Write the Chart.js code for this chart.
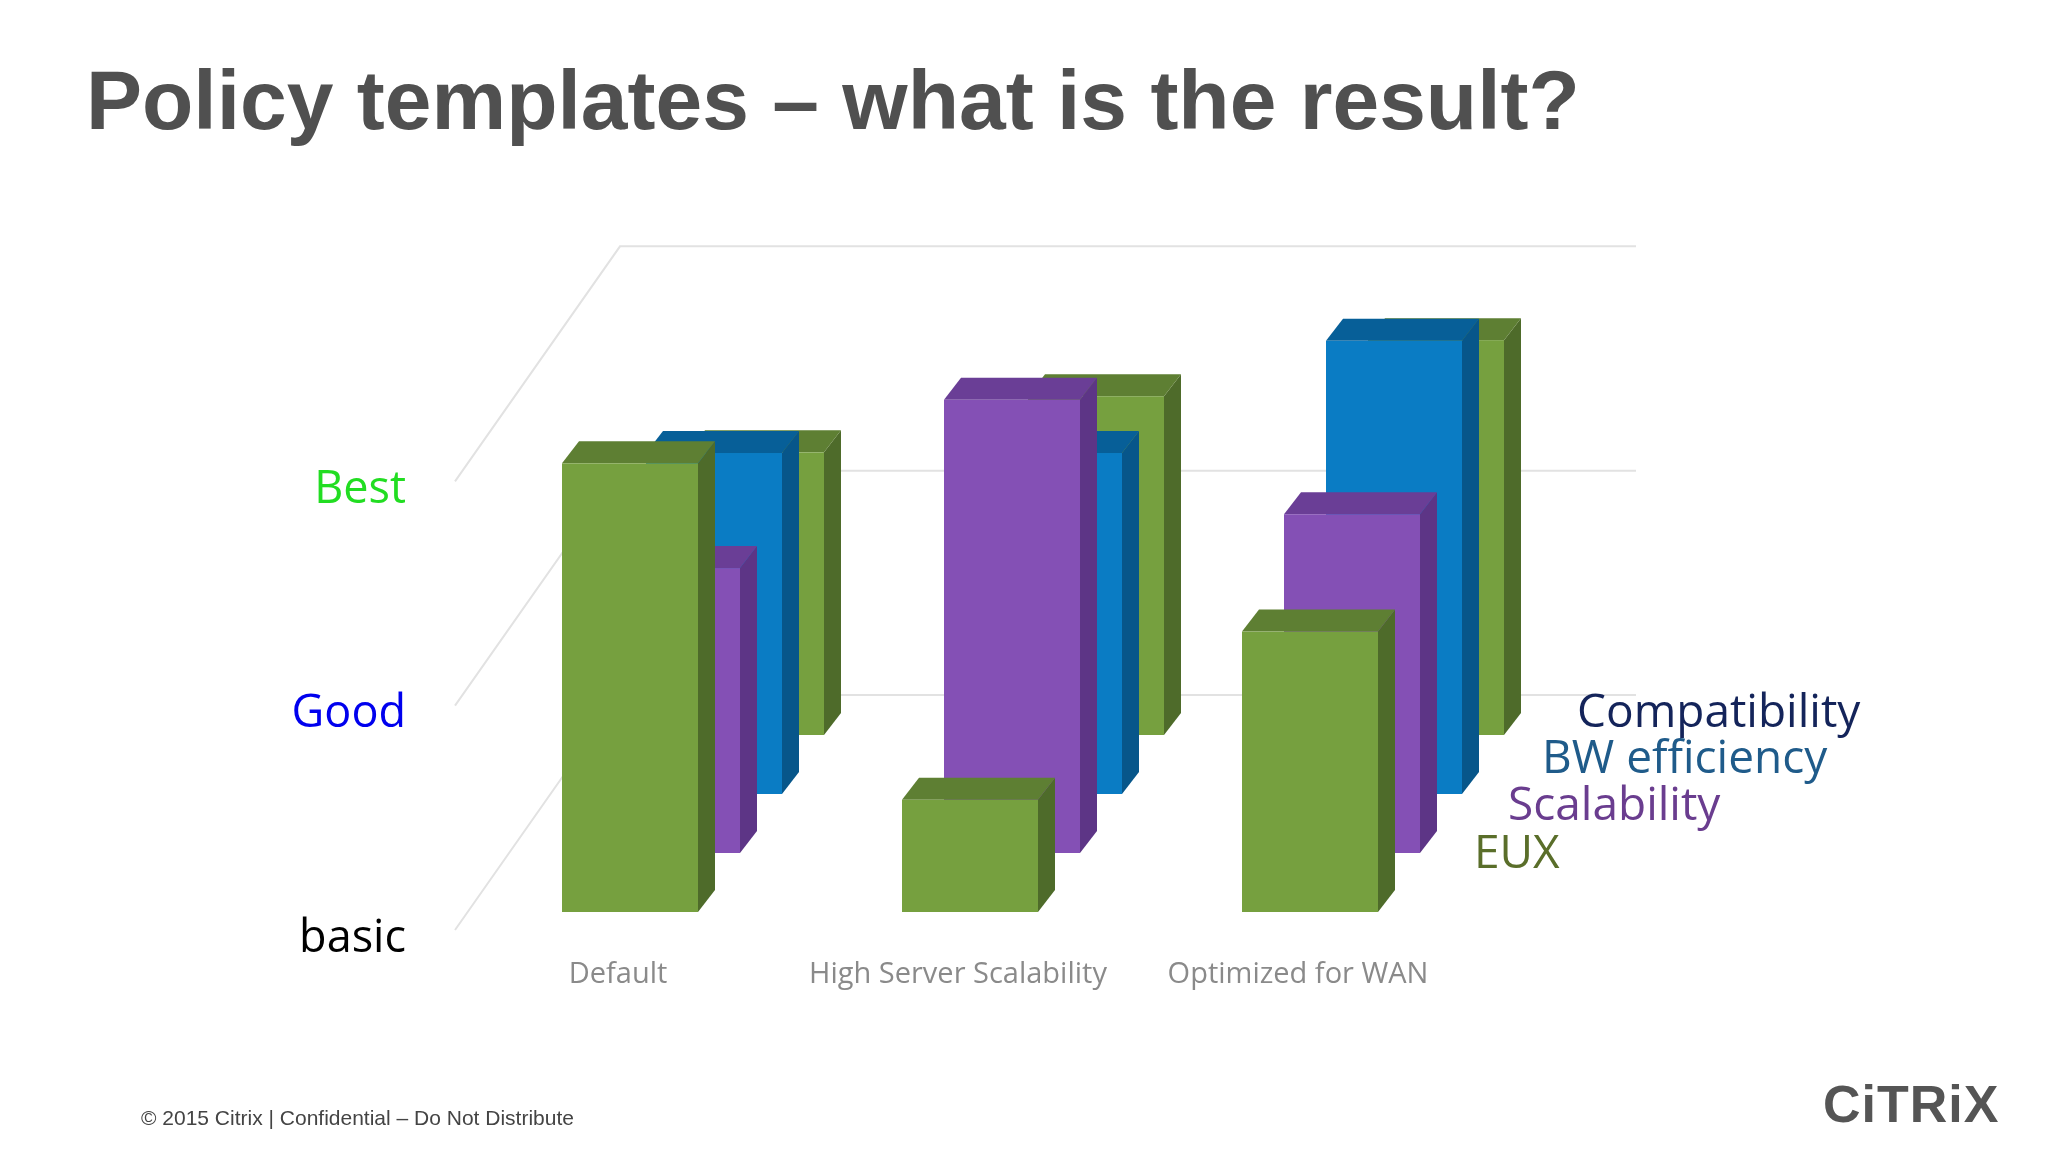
<!DOCTYPE html>
<html>
<head>
<meta charset="utf-8">
<script src="https://cdn.jsdelivr.net/npm/chart.js@4"></script>
<style>
  body { margin: 0; background: #fff; font-family: "Open Sans", sans-serif; }
  #wrap { position: relative; width: 2048px; height: 1152px; overflow: hidden; }
  canvas { position: absolute; left: 0; top: 0; }
  .t { position: absolute; white-space: nowrap; }
  #title { left: 86px; top: 52px; font: bold 84px "Liberation Sans", Arial, sans-serif; color: #505050; }
  #foot { left: 141px; top: 1106px; font: 21px "Liberation Sans", Arial, sans-serif; color: #444; }
  #logo { left: 1823px; top: 1074px; font: bold 52px "Liberation Sans", Arial, sans-serif; color: #555; letter-spacing: 1px; }
</style>
</head>
<body>
<div id="wrap">
  <canvas id="c" width="2048" height="1152"></canvas>
  <div class="t" id="title">Policy templates – what is the result?</div>
  <div class="t" id="foot">© 2015 Citrix | Confidential – Do Not Distribute</div>
  <div class="t" id="logo">CiTRiX</div>
</div>
<script>
// categories and values (0 = basic, 1 = Good, 2 = Best)
var categories = ['Default', 'High Server Scalability', 'Optimized for WAN'];
var eux = [2.0, 0.5, 1.25];
var scalability = [1.27, 2.02, 1.51];
var bwEfficiency = [1.52, 1.52, 2.02];
var compatibility = [1.26, 1.51, 1.76];
var tickValues = [0, 1, 2];
var tickLabels = ['basic', 'Good', 'Best'];
var tickColors = ['#000000', '#0000ee', '#22dd22'];
var seriesNames = ['EUX', 'Scalability', 'BW efficiency', 'Compatibility'];
var legendColors = ['#5a6e2a', '#6a3d8f', '#1f5b8a', '#14245a'];

// front, side, top face colours per series
var faces = [
  ['#76a03f', '#4e6b2a', '#5e7f33'],
  ['#8450b5', '#5d3586', '#6a3e96'],
  ['#0a7cc4', '#07568a', '#075f98'],
  ['#76a03f', '#4e6b2a', '#5e7f33']
];

var DX = 42, DY = -59;     // depth step between series
var SX = 17, SY = -22;     // bar thickness

var bars3d = {
  id: 'bars3d',
  beforeDatasetsDraw: function (chart) {
    var ctx = chart.ctx, y = chart.scales.y;
    var frontX = 455, backDX = 165, backDY = -235;
    ctx.save();
    ctx.strokeStyle = '#e2e2e2';
    ctx.lineWidth = 2;
    // left wall diagonals and back wall lines
    tickValues.forEach(function (v) {
      var py = y.getPixelForValue(v) + 18;
      ctx.beginPath();
      ctx.moveTo(frontX, py);
      ctx.lineTo(frontX + backDX, py + backDY);
      ctx.lineTo(1636, py + backDY);
      ctx.stroke();
    });
    ctx.restore();
  },
  afterDatasetsDraw: function (chart) {
    var ctx = chart.ctx;
    ctx.save();
    for (var d = chart.data.datasets.length - 1; d >= 0; d--) {
      var meta = chart.getDatasetMeta(d);
      var f = faces[d];
      meta.data.forEach(function (bar) {
        var w = bar.width;
        var x0 = bar.x - w / 2 + d * DX, x1 = x0 + w;
        var top = bar.y + d * DY, base = bar.base + d * DY;
        ctx.fillStyle = f[1];
        ctx.beginPath();
        ctx.moveTo(x1, base); ctx.lineTo(x1, top);
        ctx.lineTo(x1 + SX, top + SY); ctx.lineTo(x1 + SX, base + SY);
        ctx.closePath(); ctx.fill();
        ctx.fillStyle = f[2];
        ctx.beginPath();
        ctx.moveTo(x0, top); ctx.lineTo(x1, top);
        ctx.lineTo(x1 + SX, top + SY); ctx.lineTo(x0 + SX, top + SY);
        ctx.closePath(); ctx.fill();
        ctx.fillStyle = f[0];
        ctx.fillRect(x0, top, w, base - top);
      });
    }
    // y labels
    var y = chart.scales.y, x = chart.scales.x;
    ctx.textBaseline = 'middle';
    ctx.textAlign = 'right';
    ctx.font = '45px "Open Sans", sans-serif';
    tickValues.forEach(function (v, i) {
      ctx.fillStyle = tickColors[i];
      ctx.fillText(tickLabels[i], 406, y.getPixelForValue(v) + 27);
    });
    // category labels
    ctx.textAlign = 'center';
    ctx.font = '29px "Open Sans", sans-serif';
    ctx.fillStyle = '#8a8a8a';
    categories.forEach(function (c, i) {
      ctx.fillText(c, x.getPixelForValue(i) - 12, 975);
    });
    // series legend
    ctx.textAlign = 'left';
    ctx.font = '46px "Open Sans", sans-serif';
    var lx = [1474, 1508, 1542, 1577], ly = [855, 807, 760, 714];
    for (var s = 0; s < seriesNames.length; s++) {
      ctx.fillStyle = legendColors[s];
      ctx.fillText(seriesNames[s], lx[s], ly[s]);
    }
    ctx.restore();
  }
};

var series = [eux, scalability, bwEfficiency, compatibility];
new Chart(document.getElementById('c'), {
  type: 'bar',
  data: {
    labels: categories,
    datasets: series.map(function (vals, i) {
      return { label: seriesNames[i], data: vals, backgroundColor: 'rgba(0,0,0,0)', grouped: false };
    })
  },
  options: {
    responsive: false,
    animation: false,
    barPercentage: 0.4,
    categoryPercentage: 1,
    layout: { padding: { left: 460, right: 568, top: 239, bottom: 240 } },
    plugins: { legend: { display: false }, tooltip: { enabled: false } },
    scales: {
      x: { display: false },
      y: { display: false, min: 0, max: 3 }
    }
  },
  plugins: [bars3d]
});
</script>
</body>
</html>
